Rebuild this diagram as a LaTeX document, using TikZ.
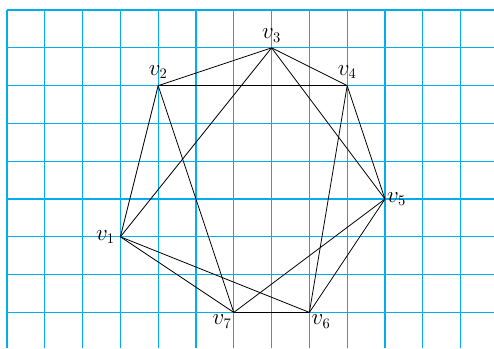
\documentclass[tikz,border=0pt]{standalone}
\definecolor{gridcyan}{RGB}{0,174,239}
\tikzset{
  gridline/.style={gridcyan, line width=0.9pt},
  edge/.style={black, line width=0.6pt},
  vlabel/.style={font=\fontsize{16}{19}\selectfont, inner sep=2pt}
}
\begin{document}
\begin{tikzpicture}
\useasboundingbox (-0.185,0.265) rectangle (12.884,-8.942);
% grid
\foreach \i in {0,...,12} {
  \draw[gridline] (\i,0) -- (\i,-8.942);
}
\foreach \j in {0,...,8} {
  \draw[gridline] (0,-\j) -- (12.884,-\j);
}
% vertices
\coordinate (v1) at (3,-6);
\coordinate (v2) at (4,-2);
\coordinate (v3) at (7,-1);
\coordinate (v4) at (9,-2);
\coordinate (v5) at (10,-5);
\coordinate (v6) at (8,-8);
\coordinate (v7) at (6,-8);
% edges
\draw[edge] (v1) -- (v2);
\draw[edge] (v1) -- (v3);
\draw[edge] (v1) -- (v7);
\draw[edge] (v1) -- (v6);
\draw[edge] (v2) -- (v3);
\draw[edge] (v2) -- (v4);
\draw[edge] (v2) -- (v7);
\draw[edge] (v3) -- (v4);
\draw[edge] (v3) -- (v5);
\draw[edge] (v4) -- (v5);
\draw[edge] (v4) -- (v6);
\draw[edge] (v5) -- (v6);
\draw[edge] (v5) -- (v7);
\draw[edge] (v6) -- (v7);
% labels
\node[vlabel, anchor=east, xshift=-2pt] (l1) at (v1) {$v_1$};
\node[vlabel, anchor=south, yshift=3pt] (l2) at (v2) {$v_2$};
\node[vlabel, anchor=south, yshift=2pt] (l3) at (v3) {$v_3$};
\node[vlabel, anchor=south, yshift=3pt] (l4) at (v4) {$v_4$};
\node[vlabel, anchor=west, inner sep=1.5pt] (l5) at (v5) {$v_5$};
\node[vlabel, anchor=north west, inner sep=1.5pt] (l6) at (v6) {$v_6$};
\node[vlabel, anchor=north east, inner sep=1.5pt] (l7) at (v7) {$v_7$};
\end{tikzpicture}
\end{document}
